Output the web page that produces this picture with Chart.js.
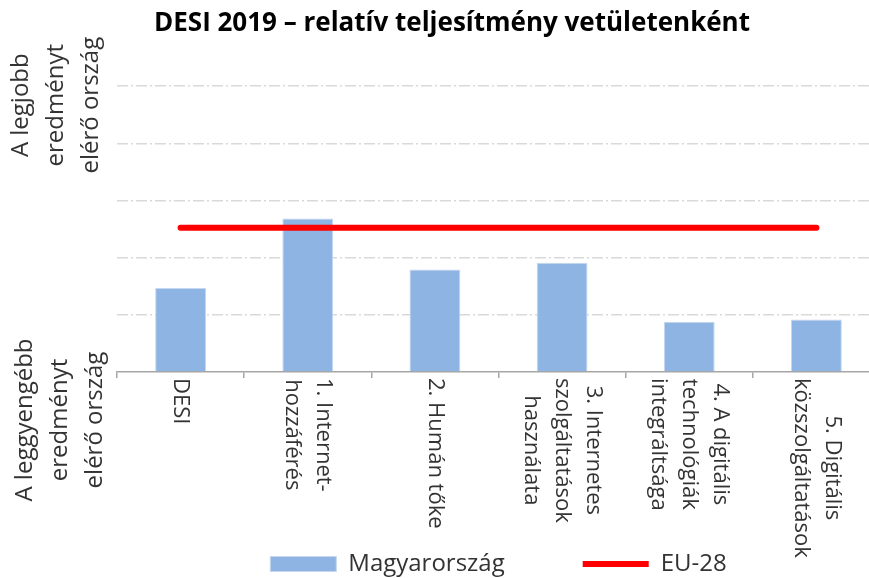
<!DOCTYPE html>
<html>
<head>
<meta charset="utf-8">
<script src="https://cdn.jsdelivr.net/npm/chart.js@4"></script>
<style>
  html, body { margin: 0; padding: 0; background: #fff; overflow: hidden; }
</style>
</head>
<body>
<canvas id="desiChart" width="908" height="578"></canvas>
<script>
const categories = [
  ['DESI'],
  ['1. Internet-', 'hozzáférés'],
  ['2. Humán tőke'],
  ['3. Internetes', 'szolgáltatások', 'használata'],
  ['4. A digitális', 'technológiák', 'integráltsága'],
  ['5. Digitális', 'közszolgáltatások']
];
const hungary = [0.294, 0.537, 0.359, 0.382, 0.176, 0.184];
const eu28 = [0.505, 0.505, 0.505, 0.505, 0.505, 0.505];
const yBottomLabel = ['A leggyengébb', 'eredményt', 'elérő ország'];
const yTopLabel = ['A legjobb', 'eredményt', 'elérő ország'];

const textColor = '#333333';
const labelFont = '"Open Sans", sans-serif';

// rotated category labels and the two end labels of the value axis
const sideLabels = {
  id: 'sideLabels',
  afterDraw(chart) {
    const { ctx, chartArea } = chart;
    const xScale = chart.scales.x;
    ctx.save();
    ctx.fillStyle = textColor;
    ctx.textBaseline = 'middle';
    ctx.textAlign = 'center';

    ctx.font = '22px ' + labelFont;
    const lh = 31;
    const top = chartArea.bottom + 6;
    categories.forEach((lines, i) => {
      const x = xScale.getPixelForValue(i);
      const w = Math.max(...lines.map(l => ctx.measureText(l).width));
      ctx.save();
      ctx.translate(x, top);
      ctx.rotate(Math.PI / 2);
      lines.forEach((line, j) => {
        ctx.fillText(line, w / 2, (j - (lines.length - 1) / 2) * lh);
      });
      ctx.restore();
    });

    ctx.font = '24px ' + labelFont;
    const drawGroup = (lines, cx, cy) => {
      ctx.save();
      ctx.translate(cx, cy);
      ctx.rotate(-Math.PI / 2);
      lines.forEach((line, j) => {
        ctx.fillText(line, 0, (j - (lines.length - 1) / 2) * 35);
      });
      ctx.restore();
    };
    drawGroup(yTopLabel, chartArea.left - 61, chartArea.top + 19);
    drawGroup(yBottomLabel, chartArea.left - 57, chartArea.bottom + 48);
    ctx.restore();
  }
};

const ctx = document.getElementById('desiChart').getContext('2d');
const desiChart = new Chart(ctx, {
  type: 'bar',
  data: {
    labels: categories,
    datasets: [{
      type: 'bar',
      label: 'Magyarország',
      data: hungary,
      backgroundColor: '#8eb4e3',
      borderColor: '#c5d8f0',
      borderWidth: 1,
      pointStyle: 'rect',
      barPercentage: 0.4,
      categoryPercentage: 1,
      order: 1
    }, {
      type: 'line',
      label: 'EU-28',
      data: eu28,
      borderColor: '#ff0000',
      backgroundColor: '#ff0000',
      borderWidth: 6,
      borderCapStyle: 'round',
      pointRadius: 0,
      pointStyle: 'line',
      order: 0
    }]
  },
  options: {
    responsive: false,
    animation: false,
    layout: { padding: { left: 24, right: 28, top: 0, bottom: 0 } },
    scales: {
      x: {
        grid: {
          display: true,
          drawOnChartArea: false,
          drawTicks: true,
          tickLength: 6,
          color: '#a6a6a6',
          lineWidth: 1.5
        },
        border: { display: true, color: '#a6a6a6', width: 1.5 },
        ticks: { display: false },
        afterFit(scale) { scale.height = 180; }
      },
      y: {
        min: 0,
        max: 1,
        ticks: { display: false, stepSize: 0.2 },
        grid: {
          drawTicks: false,
          lineWidth: 1.5,
          color: c => (c.tick && c.tick.value === 0) ? 'rgba(0,0,0,0)' : '#d9d9d9'
        },
        border: { display: false, dash: [11, 3, 2, 3] },
        afterFit(scale) { scale.width = 93; }
      }
    },
    plugins: {
      title: {
        display: true,
        text: 'DESI 2019 – relatív teljesítmény vetületenként',
        color: '#000',
        font: { family: labelFont, size: 26, weight: 'bold', lineHeight: 1.2 },
        padding: { top: 8, bottom: 47 }
      },
      legend: {
        position: 'bottom',
        fullSize: false,
        maxHeight: 26,
        labels: {
          usePointStyle: true,
          pointStyleWidth: 66,
          boxHeight: 15,
          padding: 0,
          color: textColor,
          font: { family: labelFont, size: 24 },
          generateLabels(chart) {
            const items = Chart.defaults.plugins.legend.labels.generateLabels(chart)
              .sort((a, b) => a.datasetIndex - b.datasetIndex);
            const spacer = {
              text: '', fillStyle: 'rgba(0,0,0,0)', strokeStyle: 'rgba(0,0,0,0)',
              lineWidth: 0, pointStyle: 'line', hidden: false
            };
            return [items[0], spacer, items[1]];
          }
        }
      },
      tooltip: { enabled: false }
    }
  },
  plugins: [sideLabels]
});
</script>
</body>
</html>
